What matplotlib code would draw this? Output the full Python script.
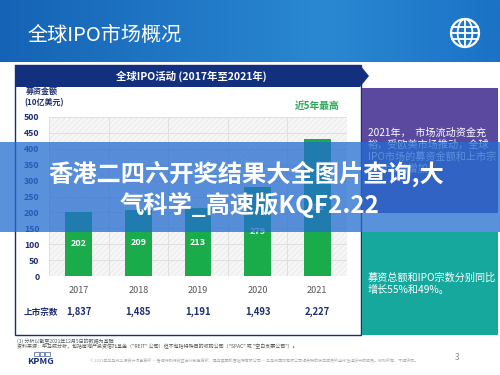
import numpy as np
import matplotlib
matplotlib.use("Agg")
import matplotlib.pyplot as plt
from matplotlib.patches import Rectangle, Polygon, Circle, Ellipse
from matplotlib.transforms import blended_transform_factory

plt.rcParams['font.family'] = ['Noto Sans CJK SC', 'DejaVu Sans']
plt.rcParams['hatch.linewidth'] = 0.4

# ---- data ----
years = ['2017', '2018', '2019', '2020', '2021']
proceeds = [202, 209, 213, 279, 432]           # 募资金额 (10亿美元)
listings = ['1,837', '1,485', '1,191', '1,493', '2,227']  # 上市宗数
yticks = [0, 50, 100, 150, 200, 250, 300, 350, 400, 450, 500]

NAVY = '#13307f'
TXT_NAVY = '#1d2f6f'
GREEN = '#1aab4b'

W, H = 500, 375
fig = plt.figure(figsize=(5, 3.75), dpi=100)
fig.patch.set_facecolor('white')

def px_axes(zorder):
    a = fig.add_axes([0, 0, 1, 1], zorder=zorder)
    a.set_xlim(0, W)
    a.set_ylim(H, 0)
    a.axis('off')
    a.patch.set_alpha(0)
    return a

bg = px_axes(0)

# header gradient
grad = np.linspace(0, 1, 256)
c1 = np.array([0x15, 0x63, 0xb6]) / 255
c2 = np.array([0x2a, 0x88, 0xd2]) / 255
c3 = np.array([0x1b, 0x72, 0xc6]) / 255
cols = np.where(grad[:, None] < 0.65,
                c1 + (c2 - c1) * (grad[:, None] / 0.65),
                c2 + (c3 - c2) * ((grad[:, None] - 0.65) / 0.35))
img = np.tile(cols[None, :, :], (8, 1, 1))
bg.imshow(img, extent=(0, W, 62, 0), aspect='auto', zorder=0)
bg.text(27, 35, '全球IPO市场概况', color='white', fontsize=14.5,
        va='center', ha='left', zorder=2)
# globe icon
gx, gy, gr = 465, 33, 14
bg.add_patch(Circle((gx, gy), gr, fill=False, ec='white', lw=1.6, zorder=2))
bg.add_patch(Ellipse((gx, gy), gr * 1.05, gr * 2, fill=False, ec='white', lw=1.3, zorder=2))
bg.plot([gx, gx], [gy - gr, gy + gr], color='white', lw=1.3, zorder=2)
for dy in (-6, 0, 6):
    hw = np.sqrt(gr ** 2 - dy ** 2)
    bg.plot([gx - hw, gx + hw], [gy + dy, gy + dy], color='white', lw=1.3, zorder=2)

# panel border
bg.add_patch(Rectangle((15, 65), 346, 270, fill=False, ec=NAVY, lw=1.0, zorder=1))
# title arrow band
bg.add_patch(Polygon([(15, 65), (360, 65), (369, 76), (360, 87), (15, 87)],
                     closed=True, fc=NAVY, ec='none', zorder=2))
bg.text(191, 76, '全球IPO活动 (2017年至2021年)', color='white', fontsize=7.5,
        fontweight='bold', ha='center', va='center', zorder=3)

# y-axis title
bg.text(42, 91, '募资金额', color=TXT_NAVY, fontsize=5.8, fontweight='bold',
        ha='center', va='center')
bg.text(44, 103, '(10亿美元)', color=TXT_NAVY, fontsize=5.8, fontweight='bold',
        ha='center', va='center')

# right boxes
bg.add_patch(Rectangle((362, 88), 136, 125, fc='#5a499e', ec='none'))
bg.add_patch(Rectangle((362, 232), 136, 103, fc='#16a89d', ec='none'))
purple_lines = ['2021年，  市场流动资金充', '裕，受欧美市场推动，全球',
                'IPO市场的募资金额和上市宗', '数均大幅增加。']
for i, s in enumerate(purple_lines):
    bg.text(368, 133 + 12 * i, s, color='white', fontsize=7.3, ha='left', va='center')
bg.text(368, 278, '募资总额和IPO宗数分别同比', color='white', fontsize=7.3,
        ha='left', va='center')
bg.text(368, 290, '增长55%和49%。', color='white', fontsize=7.3, ha='left', va='center')

# footnotes
bg.text(17, 341, '(1) 分析以截至2021年12月5日的数据为基础', color='#555555',
        fontsize=3.6, ha='left', va='center')
bg.text(17, 347, '资料来源：毕马威分析，包括房地产投资信托基金（"REIT" 公司）但不包括特殊目的收购公司（"SPAC" 或 "空白支票公司"）。',
        color='#555555', fontsize=3.6, ha='left', va='center')
for k in range(3):
    bg.add_patch(Rectangle((34 + 5.5 * k, 352), 4.5, 4, fill=False, ec=NAVY, lw=0.4))
bg.text(41, 361, 'KPMG', color=NAVY, fontsize=6.5, fontweight='bold',
        fontstyle='italic', ha='center', va='center')
bg.text(90, 360, '© 2021年毕马威华振会计师事务所 — 香港特别行政区合伙制事务所，是与英国私营担保有限公司 — 毕马威国际有限公司相关联的独立成员所全球性组织中的成员。版权所有，不得转载。',
        color='#aaaaaa', fontsize=2.9, ha='left', va='center')
bg.text(457, 357, '3', color='#888888', fontsize=6, ha='center', va='center')

# ---- chart ----
L, R, T, B = 49, 347, 117, 276
ax = fig.add_axes([L / W, 1 - B / H, (R - L) / W, (B - T) / H], zorder=1)
x = np.arange(len(years))
ax.set_xlim(-0.5, len(years) - 0.5)
ax.set_ylim(0, 500)
ax.set_facecolor('#f6f6f6')
ax.add_patch(Rectangle((0, 0), 1, 1, transform=ax.transAxes, fill=False,
                       hatch='//////', ec='#e4e4e4', lw=0, zorder=0))
for v in yticks:
    ax.axhline(v, color='#dcdcdc', lw=0.6, zorder=1)
for b in np.arange(-0.5, len(years), 1.0):
    ax.axvline(b, color='#dcdcdc', lw=0.6, zorder=1)
bars = ax.bar(x, proceeds, width=0.45, color=GREEN, zorder=2)
for xi, v in zip(x, proceeds):
    ax.text(xi, v / 2, str(v), color='white', fontsize=6.5, fontweight='bold',
            ha='center', va='center', zorder=3)
for s in ax.spines.values():
    s.set_visible(False)
ax.set_yticks(yticks)
ax.set_yticklabels([str(v) for v in yticks], color=TXT_NAVY, fontsize=6.3,
                   fontweight='bold')
ax.set_xticks(x)
ax.set_xticklabels(years, color='#555555', fontsize=6.5)
ax.tick_params(length=0, pad=7)
ax.tick_params(axis='y', pad=7)
ax.text(4, 535, '近5年最高', color='#25a955', fontsize=7, fontweight='bold',
        fontstyle='italic', ha='center', va='center', clip_on=False)

tr = blended_transform_factory(ax.transData, ax.transAxes)
row_y = (B - 312) / (B - T)
ax.text(-0.93, row_y, '上市宗数', color=TXT_NAVY, fontsize=6.2, fontweight='bold',
        ha='left', va='center', transform=tr, clip_on=False)
for xi, s in zip(x, listings):
    ax.text(xi, row_y, s, color=TXT_NAVY, fontsize=6.8, fontweight='bold',
            ha='center', va='center', transform=tr, clip_on=False)

# ---- overlay banner ----
ov = px_axes(2)
ov.add_patch(Rectangle((0, 142), W, 90, fc='#236cd0', alpha=0.75, ec='none'))
ov.text(246, 174, '香港二四六开奖结果大全图片查询,大', color='white', fontsize=17.5,
        fontweight='bold', ha='center', va='center')
ov.text(250, 205, '气科学_高速版KQF2.22', color='white', fontsize=17.5,
        fontweight='bold', ha='center', va='center')

fig.savefig('out.png', dpi=100)
